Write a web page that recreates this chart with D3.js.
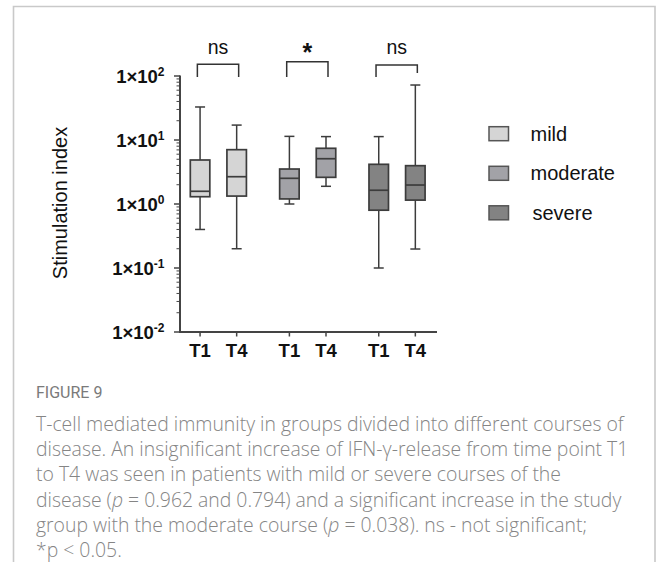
<!DOCTYPE html>
<html>
<head>
<meta charset="utf-8">
<script src="https://cdn.jsdelivr.net/npm/d3@7"></script>
<style>
  html, body { margin: 0; padding: 0; background: #fff; }
  svg { display: block; }
</style>
</head>
<body>
<svg id="chart" width="656" height="562"></svg>
<script>
// ---------- data ----------
const groups = ["mild", "moderate", "severe"];
const times = ["T1", "T4"];
const groupColors = ["#d5d5d5", "#a2a2a7", "#838383"];
// per group, per time point: [whiskerLow, q1, median, q3, whiskerHigh]
const mildBoxes = [[0.40, 1.30, 1.58, 4.87, 32.8], [0.20, 1.33, 2.67, 7.06, 17.1]];
const moderateBoxes = [[1.00, 1.20, 2.52, 3.52, 11.4], [1.89, 2.61, 5.10, 7.42, 11.3]];
const severeBoxes = [[0.10, 0.80, 1.64, 4.17, 11.3], [0.198, 1.15, 1.98, 3.97, 72.3]];
const significance = ["ns", "*", "ns"];
const yTickValues = [0.01, 0.1, 1, 10, 100];
const yTickExponents = ["-2", "-1", "0", "1", "2"];
const yLabel = "Stimulation index";
const figureLabel = "FIGURE 9";
const captionLines = [
  ["T-cell mediated immunity in groups divided into different courses of"],
  ["disease. An insignificant increase of IFN-γ-release from time point T1"],
  ["to T4 was seen in patients with mild or severe courses of the"],
  ["disease (", {i: "p"}, " = 0.962 and 0.794) and a significant increase in the study"],
  ["group with the moderate course (", {i: "p"}, " = 0.038). ns - not significant;"],
  ["*p < 0.05."]
];

const allBoxes = [mildBoxes, moderateBoxes, severeBoxes];

// ---------- layout ----------
const svg = d3.select("#chart");
const axisColor = "#444";
const markStroke = "#3c3c3c";

// card border (top, left, right)
svg.append("path")
  .attr("d", "M13.5,562 L13.5,6.5 L655,6.5 L655,562")
  .attr("fill", "none").attr("stroke", "#c9c9c9").attr("stroke-width", 1.6);

const y = d3.scaleLog().domain([0.01, 100]).range([332, 76]);
const xGroup = d3.scaleBand().domain(groups).range([173.7, 441.7]);
const xInner = d3.scalePoint().domain(times).range([-18.3, 18.3]);
const xPos = (g, t) => xGroup(g) + xGroup.bandwidth() / 2 + xInner(t);

const boxW = 19.5, capW = 10;

// boxes
groups.forEach((g, gi) => {
  times.forEach((t, ti) => {
    const [lo, q1, med, q3, hi] = allBoxes[gi][ti];
    const cx = xPos(g, t);
    const gB = svg.append("g");
    gB.append("line").attr("x1", cx).attr("x2", cx).attr("y1", y(hi)).attr("y2", y(q3))
      .attr("stroke", markStroke).attr("stroke-width", 1.5);
    gB.append("line").attr("x1", cx).attr("x2", cx).attr("y1", y(q1)).attr("y2", y(lo))
      .attr("stroke", markStroke).attr("stroke-width", 1.5);
    [hi, lo].forEach(v => gB.append("line")
      .attr("x1", cx - capW / 2).attr("x2", cx + capW / 2).attr("y1", y(v)).attr("y2", y(v))
      .attr("stroke", markStroke).attr("stroke-width", 1.5));
    gB.append("rect").attr("x", cx - boxW / 2).attr("y", y(q3))
      .attr("width", boxW).attr("height", y(q1) - y(q3))
      .attr("fill", groupColors[gi]).attr("stroke", markStroke).attr("stroke-width", 1.7);
    gB.append("line").attr("x1", cx - boxW / 2).attr("x2", cx + boxW / 2)
      .attr("y1", y(med)).attr("y2", y(med))
      .attr("stroke", markStroke).attr("stroke-width", 1.7);
  });
});

// y axis
const yAxisG = svg.append("g");
yAxisG.append("line").attr("x1", 180).attr("x2", 180).attr("y1", y(100) - 0.5).attr("y2", y(0.01) + 1)
  .attr("stroke", axisColor).attr("stroke-width", 2);
const minor = [];
for (let e = -2; e < 2; e++) for (let k = 2; k <= 9; k++) minor.push(k * Math.pow(10, e));
yAxisG.selectAll(".minor").data(minor).join("line")
  .attr("x1", 176.5).attr("x2", 180).attr("y1", d => y(d)).attr("y2", d => y(d))
  .attr("stroke", axisColor).attr("stroke-width", 1);
yAxisG.selectAll(".major").data(yTickValues).join("line")
  .attr("x1", 174).attr("x2", 180).attr("y1", d => y(d)).attr("y2", d => y(d))
  .attr("stroke", axisColor).attr("stroke-width", 1.5);
yTickValues.forEach((v, i) => {
  const t = yAxisG.append("text")
    .attr("x", 164.5).attr("y", y(v) + 7)
    .attr("text-anchor", "end")
    .attr("font-family", "Liberation Sans, Arial, sans-serif")
    .attr("font-weight", "bold").attr("font-size", 18.5).attr("fill", "#111");
  t.append("tspan").text("1×10");
  t.append("tspan").attr("font-size", 12).attr("dy", -7.5).text(yTickExponents[i]);
});

// x axis
const xAxisG = svg.append("g");
xAxisG.append("line").attr("x1", 179).attr("x2", 437).attr("y1", 332).attr("y2", 332)
  .attr("stroke", axisColor).attr("stroke-width", 2);
groups.forEach(g => times.forEach(t => {
  const cx = xPos(g, t);
  xAxisG.append("line").attr("x1", cx).attr("x2", cx).attr("y1", 332).attr("y2", 336.5)
    .attr("stroke", axisColor).attr("stroke-width", 1.5);
  xAxisG.append("text").attr("x", cx).attr("y", 357).attr("text-anchor", "middle")
    .attr("font-family", "Liberation Sans, Arial, sans-serif")
    .attr("font-weight", "bold").attr("font-size", 18.5).attr("fill", "#111").text(t);
}));

// y label
svg.append("text")
  .attr("transform", "translate(67,203) rotate(-90)")
  .attr("text-anchor", "middle")
  .attr("font-family", "Liberation Sans, Arial, sans-serif")
  .attr("font-size", 20).attr("fill", "#111").text(yLabel);

// significance brackets
const bracketTop = [64.3, 61.7, 65];
groups.forEach((g, gi) => {
  const x1 = xPos(g, "T1") - 2.7, x2 = xPos(g, "T4") + 2;
  const yt = bracketTop[gi];
  svg.append("path")
    .attr("d", `M${x1},77 L${x1},${yt} L${x2},${yt} L${x2},${gi === 2 ? 73 : 77}`)
    .attr("fill", "none").attr("stroke", "#333").attr("stroke-width", 1.5);
  const cx = (x1 + x2) / 2;
  if (significance[gi] === "*") {
    svg.append("text").attr("x", cx).attr("y", 60.5).attr("text-anchor", "middle")
      .attr("font-family", "Liberation Sans, Arial, sans-serif").attr("font-weight", "bold")
      .attr("font-size", 25).attr("fill", "#111").text(significance[gi]);
  } else {
    svg.append("text").attr("x", cx).attr("y", 54).attr("text-anchor", "middle")
      .attr("font-family", "Liberation Sans, Arial, sans-serif")
      .attr("font-size", 19.5).attr("fill", "#111").text(significance[gi]);
  }
});

// legend
const legendY = [133.7, 173.3, 212.8];
groups.forEach((g, gi) => {
  svg.append("rect").attr("x", 489).attr("y", legendY[gi] - 7)
    .attr("width", 19.5).attr("height", 14)
    .attr("fill", groupColors[gi]).attr("stroke", "#555").attr("stroke-width", 1.5);
  svg.append("text").attr("x", gi === 2 ? 532.5 : 530.5).attr("y", legendY[gi] + 7)
    .attr("font-family", "Liberation Sans, Arial, sans-serif")
    .attr("font-size", 20).attr("fill", "#111").text(g);
});

// caption
svg.append("text").attr("x", 36).attr("y", 398)
  .attr("font-family", "Liberation Sans Narrow, Roboto, sans-serif")
  .attr("font-size", 16).attr("fill", "#7a7a7a").text(figureLabel);

const capFont = "Open Sans, Noto Sans, sans-serif";
const capG = svg.append("g");
const lineEls = captionLines.map((parts, i) => {
  const t = capG.append("text").attr("x", 36).attr("y", 431 + i * 25.2)
    .attr("font-family", capFont).attr("font-weight", 300)
    .attr("font-size", 18).attr("fill", "#858585");
  parts.forEach(p => {
    if (typeof p === "string") t.append("tspan").text(p);
    else t.append("tspan").attr("font-style", "italic").text(p.i);
  });
  return t;
});
const w0 = lineEls[0].node().getComputedTextLength();
const fs = 18 * 588 / w0;
lineEls.forEach(t => t.attr("font-size", fs));
</script>
</body>
</html>
